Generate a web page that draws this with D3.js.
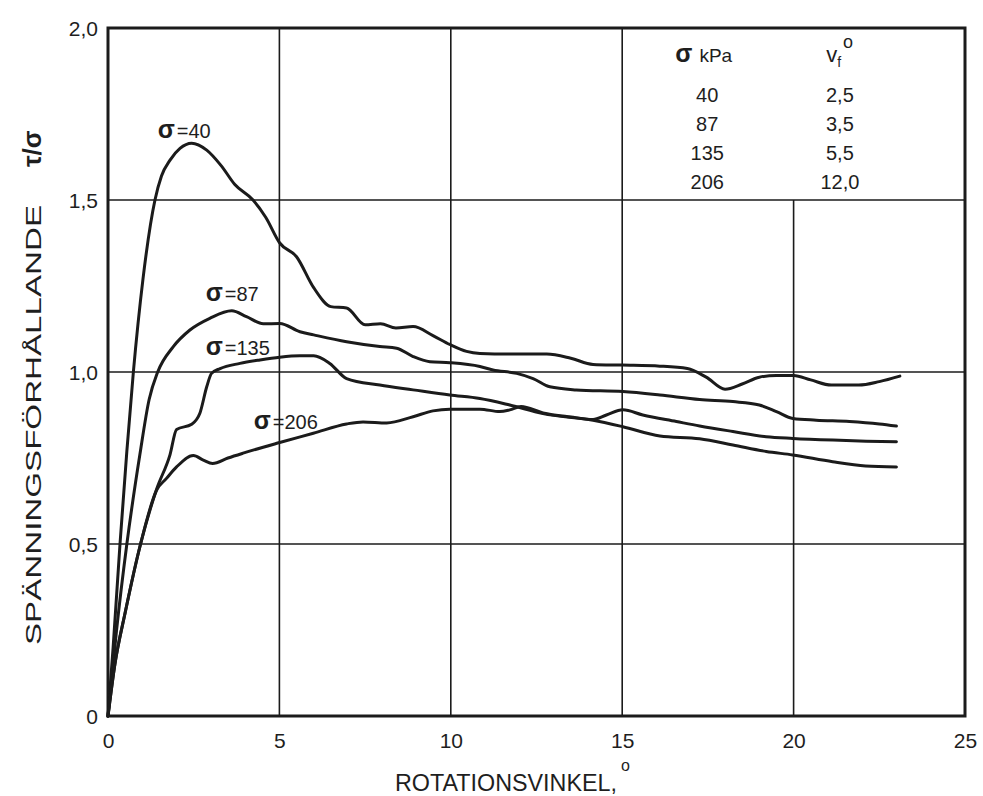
<!DOCTYPE html>
<html>
<head>
<meta charset="utf-8">
<script src="https://cdn.jsdelivr.net/npm/d3@7"></script>
<style>
  html, body { margin: 0; padding: 0; background: #ffffff; }
  svg { display: block; }
  text { font-family: "Liberation Sans", Arial, Helvetica, sans-serif; fill: #1e1e1e; }
</style>
</head>
<body>
<svg id="chart" width="983" height="796"></svg>
<script>
// ---- data ----
const xTicks = [0, 5, 10, 15, 20, 25];
const xTickLabels = ["0", "5", "10", "15", "20", "25"];
const yTicks = [0, 0.5, 1.0, 1.5, 2.0];
const yTickLabels = ["0", "0,5", "1,0", "1,5", "2,0"];

// rotation angle (deg) , stress ratio tau/sigma
const sigma40 = [[0,0],[0.15,0.2],[0.35,0.5],[0.55,0.77],[0.74,1.0],[1.02,1.27],[1.37,1.5],[1.56,1.57],[1.81,1.616],[2.1,1.65],[2.44,1.665],[2.88,1.645],[3.3,1.6],[3.7,1.545],[4.23,1.5],[4.6,1.45],[5.01,1.375],[5.5,1.335],[6.0,1.245],[6.5,1.19],[6.96,1.186],[7.5,1.137],[7.95,1.14],[8.4,1.128],[8.9,1.132],[9.48,1.106],[9.97,1.08],[10.46,1.06],[10.85,1.054],[11.7,1.052],[12.8,1.052],[13.5,1.04],[14.15,1.022],[15.0,1.02],[16.1,1.017],[16.9,1.01],[17.45,0.985],[18.0,0.95],[18.5,0.965],[19.0,0.985],[19.5,0.99],[20.0,0.99],[20.5,0.977],[21.1,0.962],[21.9,0.962],[22.5,0.972],[23.1,0.988]];
const sigma87 = [[0,0],[0.25,0.25],[0.55,0.5],[0.93,0.76],[1.2,0.92],[1.45,1.0],[1.9,1.073],[2.39,1.122],[2.97,1.156],[3.61,1.178],[4.04,1.161],[4.53,1.14],[5.01,1.141],[5.6,1.117],[6.0,1.108],[6.96,1.088],[7.93,1.074],[8.42,1.069],[8.9,1.045],[9.39,1.03],[9.97,1.027],[10.85,1.016],[11.23,1.006],[11.92,0.996],[12.4,0.981],[12.89,0.957],[13.66,0.948],[15.02,0.943],[16.1,0.933],[17.26,0.92],[18.23,0.914],[19.0,0.904],[19.5,0.885],[19.98,0.865],[20.66,0.86],[21.63,0.856],[22.5,0.849],[23.0,0.843]];
const sigma135 = [[0,0],[0.2,0.15],[0.5,0.3],[0.95,0.5],[1.42,0.66],[1.81,0.76],[2.0,0.833],[2.44,0.848],[2.68,0.88],[2.88,0.957],[3.02,0.996],[3.27,1.01],[3.85,1.025],[4.43,1.035],[5.01,1.043],[5.6,1.047],[6.0,1.047],[6.47,1.025],[6.96,0.981],[7.93,0.962],[8.9,0.948],[9.97,0.933],[10.85,0.923],[11.72,0.904],[12.69,0.879],[14.15,0.86],[15.02,0.841],[16.1,0.814],[17.26,0.806],[18.23,0.788],[19.2,0.769],[19.97,0.759],[21.14,0.739],[22.1,0.727],[23.0,0.724]];
const sigma206 = [[0,0],[0.2,0.15],[0.5,0.3],[0.95,0.5],[1.42,0.657],[1.7,0.69],[2.0,0.724],[2.49,0.757],[2.78,0.744],[3.05,0.734],[3.5,0.75],[3.94,0.764],[5.01,0.795],[5.99,0.822],[6.96,0.849],[7.44,0.855],[8.13,0.852],[8.9,0.87],[9.48,0.887],[9.97,0.892],[10.85,0.892],[11.43,0.885],[11.72,0.89],[12.05,0.9],[12.69,0.881],[13.5,0.869],[14.15,0.862],[14.54,0.875],[15.02,0.89],[15.6,0.875],[16.58,0.856],[17.26,0.843],[18.23,0.827],[19.2,0.812],[19.98,0.807],[21.15,0.802],[22.12,0.799],[23.0,0.797]];

const seriesNames = ["40", "87", "135", "206"];
const seriesLabelPos = [[1.45, 1.68], [2.85, 1.205], [2.85, 1.05], [4.25, 0.835]]; // label anchor in data units
const legendSigma = ["40", "87", "135", "206"];
const legendVf = ["2,5", "3,5", "5,5", "12,0"];

// ---- drawing ----
const svg = d3.select("#chart");
const x = d3.scaleLinear().domain([0, 25]).range([108, 965]);
const y = d3.scaleLinear().domain([0, 2]).range([716, 28]);
const ink = "#1b1b1b";

svg.append("rect").attr("width", 983).attr("height", 796).attr("fill", "#ffffff");

// grid
const grid = svg.append("g").attr("stroke", ink).attr("stroke-width", 1.6);
[5, 10, 15, 20].forEach(v => {
  grid.append("line")
    .attr("x1", x(v)).attr("x2", x(v))
    .attr("y1", v === 20 ? y(1.5) : y(2)).attr("y2", y(0));
});
[0.5, 1.0, 1.5].forEach(v => {
  grid.append("line")
    .attr("x1", x(0)).attr("x2", x(25))
    .attr("y1", y(v)).attr("y2", y(v));
});

// frame
svg.append("rect")
  .attr("x", x(0)).attr("y", y(2))
  .attr("width", x(25) - x(0)).attr("height", y(0) - y(2))
  .attr("fill", "none").attr("stroke", ink).attr("stroke-width", 3);

// axes (labels only, lines drawn by the frame)
const xAxis = d3.axisBottom(x).tickValues(xTicks).tickSize(0).tickPadding(0)
  .tickFormat((d, i) => xTickLabels[i]);
const gx = svg.append("g").attr("transform", `translate(0,${y(0)})`).call(xAxis);
gx.select(".domain").remove();
gx.selectAll("text").attr("font-size", 21).attr("dy", null).attr("y", 32)
  .style("font-family", "'Liberation Sans', Arial, sans-serif").attr("fill", ink);

const yAxis = d3.axisLeft(y).tickValues(yTicks).tickSize(0).tickPadding(0)
  .tickFormat((d, i) => yTickLabels[i]);
const gy = svg.append("g").attr("transform", `translate(${x(0) - 10},0)`).call(yAxis);
gy.select(".domain").remove();
gy.selectAll("text").attr("font-size", 21).attr("dy", "0.36em").attr("x", 0)
  .style("font-family", "'Liberation Sans', Arial, sans-serif").attr("fill", ink);

// curves
const line = d3.line().x(d => x(d[0])).y(d => y(d[1])).curve(d3.curveMonotoneX);
[sigma40, sigma87, sigma135, sigma206].forEach(s => {
  svg.append("path").attr("d", line(s))
    .attr("fill", "none").attr("stroke", ink).attr("stroke-width", 3)
    .attr("stroke-linejoin", "round").attr("stroke-linecap", "round");
});

// curve labels
seriesNames.forEach((n, i) => {
  const t = svg.append("text")
    .attr("x", x(seriesLabelPos[i][0])).attr("y", y(seriesLabelPos[i][1]));
  t.append("tspan").attr("font-size", 25).attr("font-weight", "bold").text("σ");
  t.append("tspan").attr("font-size", 20).attr("dx", 2).text("=" + n);
});

// legend table
const lg = svg.append("g");
const t1 = lg.append("text").attr("x", x(16.55)).attr("y", y(1.9));
t1.append("tspan").attr("font-size", 25).attr("font-weight", "bold").text("σ");
t1.append("tspan").attr("font-size", 19).attr("dx", 7).text("kPa");
const t2 = lg.append("text").attr("x", x(20.95)).attr("y", y(1.9));
t2.append("tspan").attr("font-size", 22).text("v");
t2.append("tspan").attr("font-size", 14).attr("dy", 5).text("f");
t2.append("tspan").attr("font-size", 18).attr("dy", -19).attr("dx", 2).text("o");
legendSigma.forEach((s, i) => {
  lg.append("text").attr("x", x(17.48)).attr("y", 101.5 + i * 29)
    .attr("text-anchor", "middle").attr("font-size", 20).text(s);
  lg.append("text").attr("x", x(21.35)).attr("y", 101.5 + i * 29)
    .attr("text-anchor", "middle").attr("font-size", 20).text(legendVf[i]);
});

// axis titles
svg.append("text").attr("x", 395).attr("y", 791).attr("font-size", 23)
  .attr("textLength", 222).attr("lengthAdjust", "spacingAndGlyphs")
  .text("ROTATIONSVINKEL,");
svg.append("text").attr("x", 621).attr("y", 771).attr("font-size", 16).text("o");

const yt = svg.append("g").attr("transform", "translate(41,645) rotate(-90)");
yt.append("text").attr("x", 0).attr("y", 0).attr("font-size", 22)
  .attr("textLength", 440).attr("lengthAdjust", "spacingAndGlyphs")
  .text("SPÄNNINGSFÖRHÅLLANDE");
yt.append("text").attr("x", 478).attr("y", 0).attr("font-size", 26)
  .attr("font-weight", "bold").text("τ/σ");
</script>
</body>
</html>
